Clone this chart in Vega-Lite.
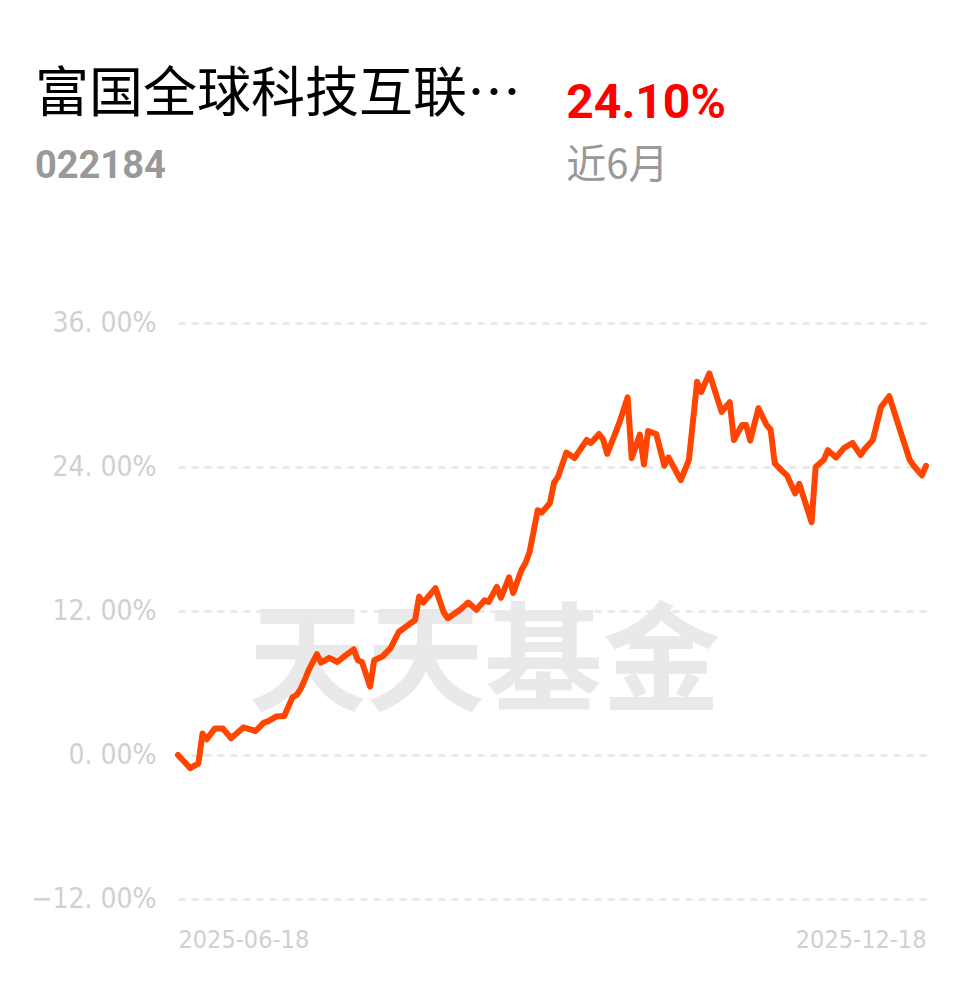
{
  "$schema": "https://vega.github.io/schema/vega-lite/v6.json",
  "width": 748,
  "height": 576,
  "autosize": {"type": "none"},
  "padding": {"left": 178, "top": 323, "right": 52, "bottom": 87},
  "background": "#ffffff",
  "config": {"view": {"stroke": null}},
  "datasets": {
    "nav": [
      {"date": "2025-06-18", "return": 0.0},
      {"date": "2025-06-21", "return": -1.1},
      {"date": "2025-06-23", "return": -0.7},
      {"date": "2025-06-24", "return": 1.8},
      {"date": "2025-06-25", "return": 1.3},
      {"date": "2025-06-27", "return": 2.2},
      {"date": "2025-06-29", "return": 2.2},
      {"date": "2025-07-01", "return": 1.4},
      {"date": "2025-07-04", "return": 2.3},
      {"date": "2025-07-07", "return": 2.0},
      {"date": "2025-07-09", "return": 2.7},
      {"date": "2025-07-10", "return": 2.8},
      {"date": "2025-07-12", "return": 3.2},
      {"date": "2025-07-14", "return": 3.25},
      {"date": "2025-07-16", "return": 4.8},
      {"date": "2025-07-17", "return": 5.0},
      {"date": "2025-07-18", "return": 5.5},
      {"date": "2025-07-19", "return": 6.25},
      {"date": "2025-07-20", "return": 7.1},
      {"date": "2025-07-22", "return": 8.4},
      {"date": "2025-07-23", "return": 7.7},
      {"date": "2025-07-25", "return": 8.1},
      {"date": "2025-07-27", "return": 7.75},
      {"date": "2025-07-29", "return": 8.3},
      {"date": "2025-07-31", "return": 8.8},
      {"date": "2025-08-01", "return": 7.9},
      {"date": "2025-08-02", "return": 7.75},
      {"date": "2025-08-04", "return": 5.7},
      {"date": "2025-08-05", "return": 7.9},
      {"date": "2025-08-07", "return": 8.2},
      {"date": "2025-08-09", "return": 8.9},
      {"date": "2025-08-11", "return": 10.25},
      {"date": "2025-08-14", "return": 11.0},
      {"date": "2025-08-15", "return": 11.25},
      {"date": "2025-08-16", "return": 13.2},
      {"date": "2025-08-17", "return": 12.7},
      {"date": "2025-08-18", "return": 13.1},
      {"date": "2025-08-20", "return": 13.9},
      {"date": "2025-08-22", "return": 11.9},
      {"date": "2025-08-23", "return": 11.4},
      {"date": "2025-08-26", "return": 12.1},
      {"date": "2025-08-28", "return": 12.7},
      {"date": "2025-08-30", "return": 12.1},
      {"date": "2025-09-01", "return": 12.9},
      {"date": "2025-09-02", "return": 12.75},
      {"date": "2025-09-04", "return": 14.0},
      {"date": "2025-09-05", "return": 13.1},
      {"date": "2025-09-07", "return": 14.8},
      {"date": "2025-09-08", "return": 13.5},
      {"date": "2025-09-10", "return": 15.4},
      {"date": "2025-09-11", "return": 16.0},
      {"date": "2025-09-12", "return": 16.9},
      {"date": "2025-09-14", "return": 20.4},
      {"date": "2025-09-15", "return": 20.2},
      {"date": "2025-09-17", "return": 21.0},
      {"date": "2025-09-18", "return": 22.7},
      {"date": "2025-09-19", "return": 23.2},
      {"date": "2025-09-21", "return": 25.2},
      {"date": "2025-09-23", "return": 24.75},
      {"date": "2025-09-26", "return": 26.25},
      {"date": "2025-09-27", "return": 26.0},
      {"date": "2025-09-29", "return": 26.75},
      {"date": "2025-09-30", "return": 26.3},
      {"date": "2025-10-01", "return": 25.1},
      {"date": "2025-10-04", "return": 27.7},
      {"date": "2025-10-06", "return": 29.8},
      {"date": "2025-10-07", "return": 24.75},
      {"date": "2025-10-09", "return": 26.7},
      {"date": "2025-10-10", "return": 24.2},
      {"date": "2025-10-11", "return": 27.0},
      {"date": "2025-10-13", "return": 26.75},
      {"date": "2025-10-15", "return": 24.1},
      {"date": "2025-10-16", "return": 24.8},
      {"date": "2025-10-19", "return": 22.9},
      {"date": "2025-10-21", "return": 24.6},
      {"date": "2025-10-23", "return": 31.1},
      {"date": "2025-10-24", "return": 30.25},
      {"date": "2025-10-26", "return": 31.8},
      {"date": "2025-10-29", "return": 28.6},
      {"date": "2025-10-31", "return": 29.4},
      {"date": "2025-11-01", "return": 26.25},
      {"date": "2025-11-03", "return": 27.5},
      {"date": "2025-11-04", "return": 27.5},
      {"date": "2025-11-05", "return": 26.2},
      {"date": "2025-11-07", "return": 28.9},
      {"date": "2025-11-09", "return": 27.5},
      {"date": "2025-11-10", "return": 27.1},
      {"date": "2025-11-11", "return": 24.3},
      {"date": "2025-11-13", "return": 23.6},
      {"date": "2025-11-14", "return": 23.3},
      {"date": "2025-11-16", "return": 21.8},
      {"date": "2025-11-17", "return": 22.6},
      {"date": "2025-11-20", "return": 19.4},
      {"date": "2025-11-21", "return": 24.0},
      {"date": "2025-11-23", "return": 24.6},
      {"date": "2025-11-24", "return": 25.4},
      {"date": "2025-11-26", "return": 24.8},
      {"date": "2025-11-28", "return": 25.6},
      {"date": "2025-11-30", "return": 26.0},
      {"date": "2025-12-02", "return": 25.0},
      {"date": "2025-12-03", "return": 25.5},
      {"date": "2025-12-05", "return": 26.25},
      {"date": "2025-12-07", "return": 29.0},
      {"date": "2025-12-09", "return": 29.9},
      {"date": "2025-12-12", "return": 26.7},
      {"date": "2025-12-14", "return": 24.6},
      {"date": "2025-12-15", "return": 24.1},
      {"date": "2025-12-17", "return": 23.3},
      {"date": "2025-12-18", "return": 24.1}
    ]
  },
  "layer": [
    {
      "data": {"values": [{"label": "天天基金"}]},
      "mark": {"type": "text", "font": "Noto Sans CJK SC", "fontSize": 118, "fontWeight": "bold", "color": "#e9e9e9", "align": "center", "baseline": "middle"},
      "encoding": {
        "text": {"field": "label"},
        "x": {"datum": {"year": 2025, "month": 9, "date": 1, "utc": true}, "type": "temporal", "scale": {"domain": [{"year": 2025, "month": 6, "date": 18, "utc": true}, {"year": 2025, "month": 12, "date": 18, "utc": true}], "nice": false}},
        "y": {"datum": 7.3, "type": "quantitative"}
      }
    },
    {
      "data": {"name": "nav"},
      "mark": {"type": "line", "color": "#ff4500", "strokeWidth": 6, "strokeJoin": "round", "strokeCap": "round"},
      "encoding": {
        "x": {
          "field": "date",
          "type": "temporal",
          "scale": {"domain": [{"year": 2025, "month": 6, "date": 18, "utc": true}, {"year": 2025, "month": 12, "date": 18, "utc": true}], "nice": false},
          "axis": {
            "title": null,
            "values": [{"year": 2025, "month": 6, "date": 18, "utc": true}, {"year": 2025, "month": 12, "date": 18, "utc": true}],
            "labelExpr": "utcFormat(datum.value, '%Y-%m-%d')",
            "labelFlush": true,
            "domain": false,
            "ticks": false,
            "grid": false,
            "labelFont": "DejaVu Sans Condensed, Roboto, sans-serif",
            "labelFontSize": 25,
            "labelColor": "#d0d0d0",
            "labelPadding": 28
          }
        },
        "y": {
          "field": "return",
          "type": "quantitative",
          "scale": {"domain": [-12, 36], "nice": false, "zero": false},
          "axis": {
            "title": null,
            "values": [-12, 0, 12, 24, 36],
            "labelExpr": "replace(format(datum.value, '.2f'), '.', '. ') + '%'",
            "domain": false,
            "ticks": false,
            "grid": true,
            "gridColor": "#e6e6e6",
            "gridDash": [7, 6],
            "gridWidth": 2.5,
            "labelFont": "DejaVu Sans Condensed, Roboto, sans-serif",
            "labelFontSize": 28,
            "labelColor": "#d0d0d0",
            "labelPadding": 22
          }
        }
      }
    },
    {
      "data": {"values": [{"label": "富国全球科技互联…"}]},
      "mark": {"type": "text", "font": "Noto Sans CJK SC", "fontSize": 54, "fontWeight": "normal", "color": "#000000", "align": "left", "baseline": "alphabetic"},
      "encoding": {
        "text": {"field": "label"},
        "x": {"datum": {"year": 2025, "month": 5, "date": 14, "utc": true}, "type": "temporal", "scale": {"domain": [{"year": 2025, "month": 6, "date": 18, "utc": true}, {"year": 2025, "month": 12, "date": 18, "utc": true}], "nice": false}},
        "y": {"datum": 53.55, "type": "quantitative"}
      }
    },
    {
      "data": {"values": [{"label": "022184"}]},
      "mark": {"type": "text", "font": "Roboto", "fontSize": 38, "fontWeight": "bold", "color": "#999999", "align": "left", "baseline": "alphabetic"},
      "encoding": {
        "text": {"field": "label"},
        "x": {"datum": {"year": 2025, "month": 5, "date": 14, "utc": true}, "type": "temporal", "scale": {"domain": [{"year": 2025, "month": 6, "date": 18, "utc": true}, {"year": 2025, "month": 12, "date": 18, "utc": true}], "nice": false}},
        "y": {"datum": 48.1, "type": "quantitative"}
      }
    },
    {
      "data": {"values": [{"label": "24.10%"}]},
      "mark": {"type": "text", "font": "Roboto", "fontSize": 48, "fontWeight": "bold", "color": "#ff0000", "align": "left", "baseline": "alphabetic"},
      "encoding": {
        "text": {"field": "label"},
        "x": {"datum": {"year": 2025, "month": 9, "date": 21, "utc": true}, "type": "temporal", "scale": {"domain": [{"year": 2025, "month": 6, "date": 18, "utc": true}, {"year": 2025, "month": 12, "date": 18, "utc": true}], "nice": false}},
        "y": {"datum": 53.1, "type": "quantitative"}
      }
    },
    {
      "data": {"values": [{"label": "近6月"}]},
      "mark": {"type": "text", "font": "Noto Sans CJK SC", "fontSize": 40, "fontWeight": "normal", "color": "#999999", "align": "left", "baseline": "alphabetic"},
      "encoding": {
        "text": {"field": "label"},
        "x": {"datum": {"year": 2025, "month": 9, "date": 21, "utc": true}, "type": "temporal", "scale": {"domain": [{"year": 2025, "month": 6, "date": 18, "utc": true}, {"year": 2025, "month": 12, "date": 18, "utc": true}], "nice": false}},
        "y": {"datum": 48.1, "type": "quantitative"}
      }
    }
  ]
}
